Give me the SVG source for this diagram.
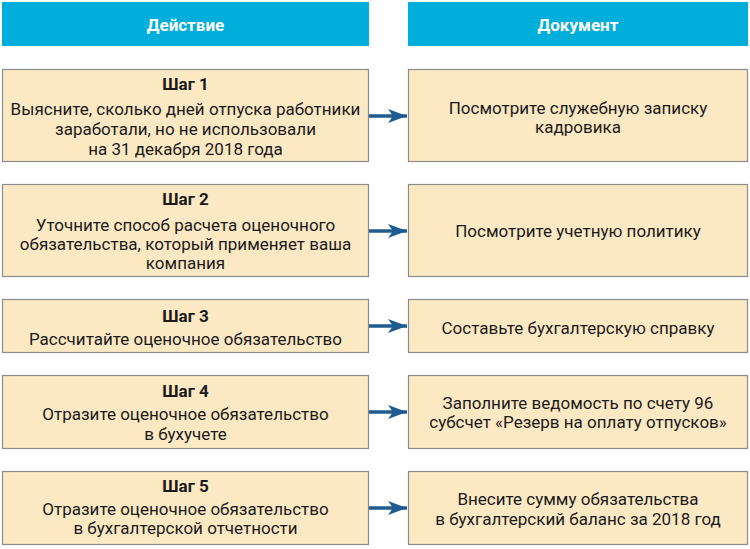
<svg xmlns="http://www.w3.org/2000/svg" width="750" height="549" viewBox="0 0 750 549">
<style>
.hdr{fill:#00AEDB}
.hdrt{font-family:Roboto,"Liberation Sans",sans-serif;font-size:17px;font-weight:bold;fill:#fff;text-anchor:middle}
.box{fill:#FCE9C4;stroke:#8C8C8C;stroke-width:1.2}
.t{font-family:Roboto,"Liberation Sans",sans-serif;font-size:17px;fill:#1a1a1a;text-anchor:middle}
.s{font-family:Roboto,"Liberation Sans",sans-serif;font-size:17px;font-weight:bold;fill:#1a1a1a;text-anchor:middle}
.ar{stroke:#1E5B8E;stroke-width:3.5;fill:none}
.ah{fill:#1E5B8E}
</style>
<defs>
<marker id="arr" markerWidth="20" markerHeight="16" viewBox="0 0 20 16" refX="19" refY="8" orient="auto" markerUnits="userSpaceOnUse">
<path d="M0,1 L19,8 L0,15 L5,8 Z" class="ah"/>
</marker>
</defs>
<rect width="750" height="549" fill="#fff"/>
<g id="header-action"><rect class="hdr" x="2" y="2" width="367" height="44"/><text class="hdrt" x="185.5" y="31">Действие</text></g>
<g id="header-document"><rect class="hdr" x="408" y="2" width="340" height="44"/><text class="hdrt" x="578" y="31">Документ</text></g>

<g id="step1"><rect class="box" x="2.5" y="69.5" width="366" height="92"/>
<text class="s" x="185.5" y="90">Шаг 1</text>
<text class="t" x="185.5" y="115">Выясните, сколько дней отпуска работники</text>
<text class="t" x="185.5" y="135">заработали, но не использовали</text>
<text class="t" x="185.5" y="155">на 31 декабря 2018 года</text></g>
<g id="doc1"><rect class="box" x="408.5" y="69.5" width="339" height="92"/>
<text class="t" x="578" y="114">Посмотрите служебную записку</text>
<text class="t" x="578" y="133">кадровика</text></g>

<g id="step2"><rect class="box" x="2.5" y="184.5" width="366" height="92"/>
<text class="s" x="185.5" y="205">Шаг 2</text>
<text class="t" x="185.5" y="231">Уточните способ расчета оценочного</text>
<text class="t" x="185.5" y="250">обязательства, который применяет ваша</text>
<text class="t" x="185.5" y="269">компания</text></g>
<g id="doc2"><rect class="box" x="408.5" y="184.5" width="339" height="92"/>
<text class="t" x="578" y="237">Посмотрите учетную политику</text></g>

<g id="step3"><rect class="box" x="2.5" y="299.5" width="366" height="53"/>
<text class="s" x="185.5" y="322">Шаг 3</text>
<text class="t" x="185.5" y="345">Рассчитайте оценочное обязательство</text></g>
<g id="doc3"><rect class="box" x="408.5" y="299.5" width="339" height="53"/>
<text class="t" x="578" y="334">Составьте бухгалтерскую справку</text></g>

<g id="step4"><rect class="box" x="2.5" y="375.5" width="366" height="73"/>
<text class="s" x="185.5" y="397">Шаг 4</text>
<text class="t" x="185.5" y="420">Отразите оценочное обязательство</text>
<text class="t" x="185.5" y="440">в бухучете</text></g>
<g id="doc4"><rect class="box" x="408.5" y="375.5" width="339" height="73"/>
<text class="t" x="578" y="409">Заполните ведомость по счету 96</text>
<text class="t" x="578" y="428">субсчет «Резерв на оплату отпусков»</text></g>

<g id="step5"><rect class="box" x="2.5" y="471.5" width="366" height="73"/>
<text class="s" x="185.5" y="492">Шаг 5</text>
<text class="t" x="185.5" y="515">Отразите оценочное обязательство</text>
<text class="t" x="185.5" y="534">в бухгалтерской отчетности</text></g>
<g id="doc5"><rect class="box" x="408.5" y="471.5" width="339" height="73"/>
<text class="t" x="578" y="505">Внесите сумму обязательства</text>
<text class="t" x="578" y="525">в бухгалтерский баланс за 2018 год</text></g>

<g id="connectors">
<line class="ar" x1="369" y1="116" x2="407" y2="116" marker-end="url(#arr)"/>
<line class="ar" x1="369" y1="231" x2="407" y2="231" marker-end="url(#arr)"/>
<line class="ar" x1="369" y1="326" x2="407" y2="326" marker-end="url(#arr)"/>
<line class="ar" x1="369" y1="412" x2="407" y2="412" marker-end="url(#arr)"/>
<line class="ar" x1="369" y1="508" x2="407" y2="508" marker-end="url(#arr)"/>
</g>
</svg>
